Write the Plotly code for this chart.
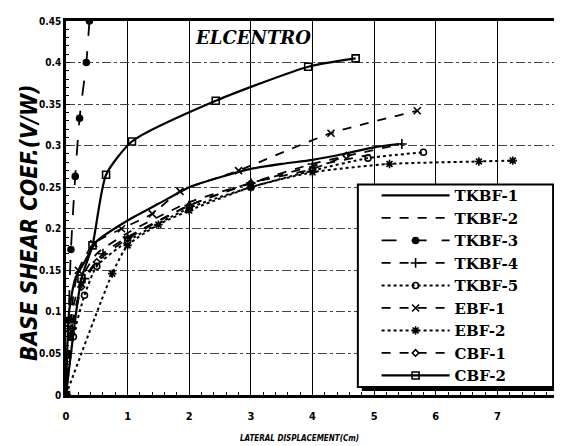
import plotly.graph_objects as go

# ---- data ----
tkbf1_x = [0, 0.05, 0.15, 0.3, 0.5, 1.0, 1.5, 2.0, 2.5, 3.0, 3.5, 4.0, 4.5, 5.0, 5.4]
tkbf1_y = [0, 0.10, 0.14, 0.16, 0.185, 0.21, 0.23, 0.25, 0.262, 0.272, 0.278, 0.283, 0.29, 0.298, 0.302]

tkbf2_x = [0, 0.1, 0.25, 0.5, 1.0, 2.0, 3.0, 4.0, 5.0]
tkbf2_y = [0, 0.10, 0.14, 0.17, 0.195, 0.232, 0.255, 0.275, 0.29]

tkbf3_x = [0, 0.04, 0.08, 0.15, 0.22, 0.33, 0.38]
tkbf3_y = [0, 0.09, 0.175, 0.263, 0.333, 0.40, 0.45]

tkbf4_x = [0, 0.1, 0.3, 0.6, 1.0, 2.0, 3.0, 4.0, 5.45]
tkbf4_y = [0, 0.08, 0.14, 0.17, 0.19, 0.228, 0.255, 0.278, 0.302]

tkbf5_x = [0, 0.12, 0.3, 0.5, 1.0, 2.0, 3.0, 4.0, 4.9, 5.8]
tkbf5_y = [0, 0.07, 0.12, 0.155, 0.185, 0.225, 0.25, 0.27, 0.285, 0.292]

ebf1_x = [0, 0.05, 0.2, 0.45, 0.9, 1.4, 1.85, 2.8, 4.3, 5.7]
ebf1_y = [0, 0.08, 0.15, 0.182, 0.2, 0.218, 0.245, 0.27, 0.315, 0.342]

ebf2_x = [0, 0.75, 1.0, 1.5, 2.0, 3.0, 4.0, 5.25, 6.7, 7.25]
ebf2_y = [0, 0.146, 0.18, 0.205, 0.222, 0.25, 0.268, 0.278, 0.281, 0.282]

cbf1_x = [0, 0.08, 0.25, 0.5, 1.0, 2.0, 3.0, 4.0, 4.55]
cbf1_y = [0, 0.08, 0.13, 0.16, 0.188, 0.228, 0.255, 0.272, 0.288]

cbf2_x = [0, 0.25, 0.43, 0.65, 1.07, 2.43, 3.93, 4.7]
cbf2_y = [0, 0.14, 0.18, 0.265, 0.305, 0.354, 0.395, 0.405]

x_ticks = [0, 1, 2, 3, 4, 5, 6, 7, 8]
y_ticks = [0, 0.05, 0.1, 0.15, 0.2, 0.25, 0.3, 0.35, 0.4, 0.45]
y_tick_labels = ["0", "0.05", "0.1", "0.15", "0.2", "0.25", "0.3", "0.35", "0.4", "0.45"]

series = [
    ("TKBF-1", tkbf1_x, tkbf1_y, "solid", 2.2, None, 0, "lines"),
    ("TKBF-2", tkbf2_x, tkbf2_y, "dash", 1.8, None, 0, "lines"),
    ("TKBF-3", tkbf3_x, tkbf3_y, "longdash", 1.8, "circle", 6, "lines+markers"),
    ("TKBF-4", tkbf4_x, tkbf4_y, "dash", 1.8, "cross-thin", 7, "lines+markers"),
    ("TKBF-5", tkbf5_x, tkbf5_y, "dot", 2.0, "circle-open", 6, "lines+markers"),
    ("EBF-1", ebf1_x, ebf1_y, "dash", 1.8, "x-thin", 7, "lines+markers"),
    ("EBF-2", ebf2_x, ebf2_y, "dot", 2.0, "asterisk", 7, "lines+markers"),
    ("CBF-1", cbf1_x, cbf1_y, "dash", 1.8, "diamond-open", 5, "lines+markers"),
    ("CBF-2", cbf2_x, cbf2_y, "solid", 2.2, "square-open", 7, "lines+markers"),
]

fig = go.Figure()
for name, xs, ys, dash, lw, sym, ms, mode in series:
    marker = dict(color="black")
    if sym:
        marker.update(symbol=sym, size=ms, line=dict(color="black", width=1.6))
    fig.add_trace(go.Scatter(
        x=xs, y=ys, name=name, mode=mode,
        line=dict(color="black", width=lw, dash=dash, shape="spline", smoothing=0.6),
        marker=marker,
    ))

narrow = "DejaVu Sans Condensed, Liberation Sans Narrow, sans-serif"
serif = "DejaVu Serif, Liberation Serif, serif"

fig.update_layout(
    width=562, height=446,
    margin=dict(l=58, r=7, t=9, b=59),
    paper_bgcolor="white", plot_bgcolor="white",
    showlegend=True,
    legend=dict(
        x=0.63, y=0.577, xanchor="left", yanchor="top",
        bgcolor="rgba(0,0,0,0)", borderwidth=0,
        font=dict(family=serif, size=15, color="black", weight="bold"),
        itemwidth=68, tracegroupgap=0,
    ),
    xaxis=dict(
        range=[0, 8], tickvals=x_ticks, ticktext=[str(v) for v in x_ticks],
        showgrid=True, gridcolor="black", gridwidth=1,
        showline=True, linecolor="black", linewidth=2.5, mirror=True,
        ticks="inside", ticklen=4, tickcolor="black",
        minor=dict(dtick=0.2, ticks="inside", ticklen=3, tickcolor="black", showgrid=False),
        tickfont=dict(family=narrow, size=11, color="black", weight="bold"),
        zeroline=False, fixedrange=True, ticklabelstandoff=9,
    ),
    yaxis=dict(
        range=[0, 0.45], tickvals=y_ticks, ticktext=y_tick_labels,
        showgrid=True, gridcolor="#444", gridwidth=1, griddash="dashdot",
        showline=True, linecolor="black", linewidth=2.5, mirror=True,
        ticks="inside", ticklen=4, tickcolor="black",
        minor=dict(dtick=0.01, ticks="inside", ticklen=3, tickcolor="black", showgrid=False),
        tickfont=dict(family=narrow, size=10, color="black", weight="bold"),
        zeroline=False, fixedrange=True,
    ),
)

# legend frame: drop shadow + white box with border
fig.add_shape(
    type="rect", xref="paper", yref="paper",
    x0=0.600, x1=0.996, y0=0.0107, y1=0.552,
    fillcolor="black", line=dict(width=0), layer="above",
)
fig.add_shape(
    type="rect", xref="paper", yref="paper",
    x0=0.592, x1=0.988, y0=0.0213, y1=0.563,
    fillcolor="white", line=dict(color="black", width=2), layer="above",
)

fig.add_annotation(
    text="<b><i>ELCENTRO</i></b>", xref="paper", yref="paper",
    x=0.38, y=0.955, xanchor="center", yanchor="middle", showarrow=False,
    font=dict(family="DejaVu Serif, serif", size=18, color="black"),
)
fig.add_annotation(
    text="<b><i>BASE SHEAR COEF.(V/W)</i></b>", xref="paper", yref="paper",
    x=-0.075, y=0.46, xanchor="center", yanchor="middle", showarrow=False,
    textangle=-90, font=dict(family=narrow, size=22.5, color="black"),
)
fig.add_annotation(
    text="<b><i>LATERAL DISPLACEMENT(Cm)</i></b>", xref="paper", yref="paper",
    x=0.474, y=-0.115, xanchor="center", yanchor="middle", showarrow=False,
    font=dict(family=narrow, size=8, color="black"),
)

fig.write_html("out.html")
